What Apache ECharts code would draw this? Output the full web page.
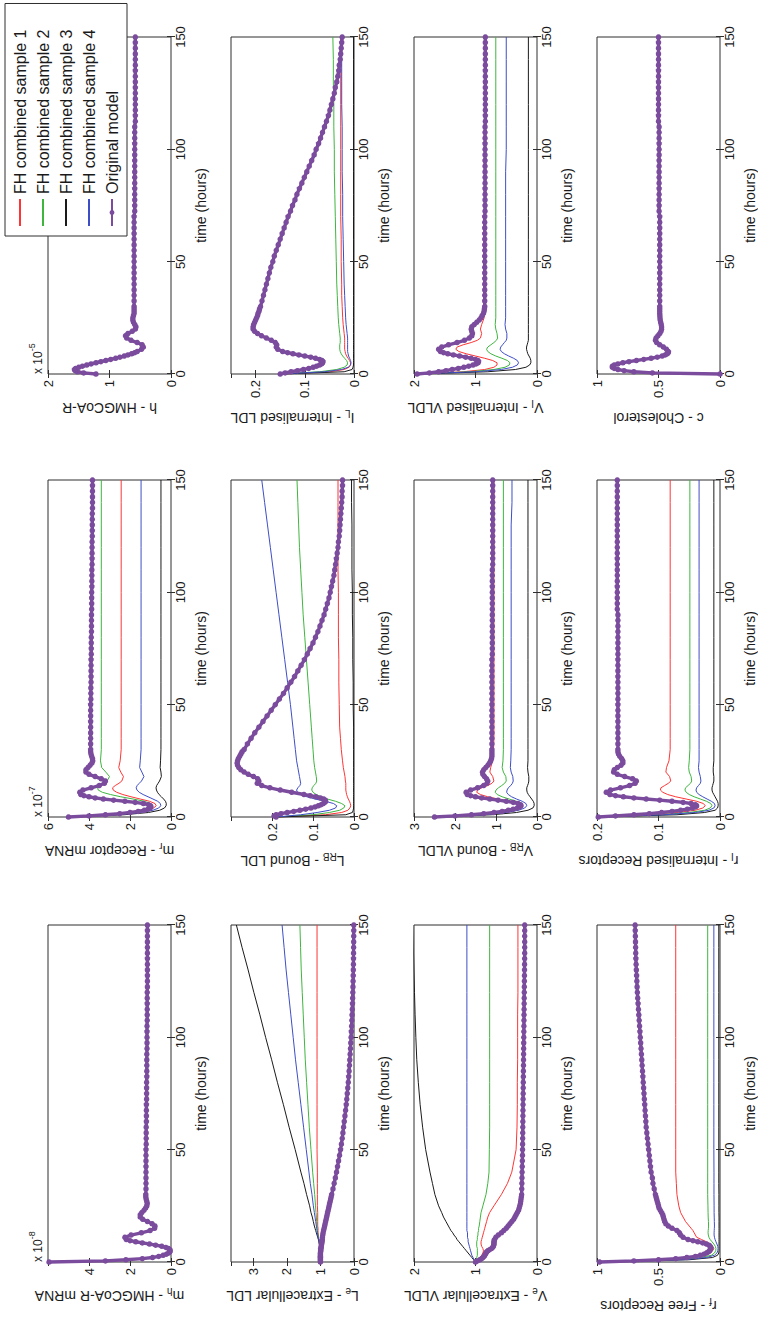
<!DOCTYPE html>
<html>
<head>
<meta charset="utf-8">
<script src="https://cdn.jsdelivr.net/npm/echarts@6/dist/echarts.min.js"></script>
<style>
html,body{margin:0;padding:0;background:#fff;width:758px;height:1317px;overflow:hidden;}
#wrap{position:absolute;left:0;top:0;width:1317px;height:758px;transform-origin:0 0;transform:translate(0,1317px) rotate(-90deg);}
#chart{width:1317px;height:758px;background:#fff;}
</style>
</head>
<body>
<div id="wrap"><div id="chart"></div></div>
<script>
// ---------- time grids ----------
const TIME_ORIG = [0,0.5,1,1.5,2,2.5,3,3.5,4,4.5,5,5.5,6,6.5,7,7.5,8,8.5,9,9.5,10,
  11,12,13,14,15,16,17,18,19,20,21,22,23,24,25,26,27,28,29,30,
  32.5,35,37.5,40,42.5,45,47.5,50,52.5,55,57.5,60,62.5,65,67.5,70,72.5,75,77.5,80,
  82.5,85,87.5,90,92.5,95,97.5,100,102.5,105,107.5,110,112.5,115,117.5,120,
  122.5,125,127.5,130,132.5,135,137.5,140,142.5,145,147.5,150];
const TIME_FH = [0,1,2,3,4,5,6,7,8,9,10,11,12,13,14,15,16,18,20,22,25,30,35,40,50,60,70,80,90,100,110,120,130,140,150];
const TIME_TICKS = [0,50,100,150];
const SERIES_NAMES = ['FH combined sample 1','FH combined sample 2','FH combined sample 3','FH combined sample 4','Original model'];

// ---------- m_h (x1e-8) ----------
const mh_orig = [5.95,3.2,2.2,1.4,0.9,0.6,0.38,0.22,0.12,0.06,0.04,0.06,0.12,0.25,0.45,0.75,1.05,1.4,1.72,2.0,2.18,
  2.25,1.95,1.45,1.02,0.8,0.78,0.92,1.15,1.38,1.5,1.5,1.42,1.32,1.24,1.18,1.16,1.18,1.21,1.23,1.23,
  1.22,1.22,1.22,1.22,1.22,1.22,1.22,1.22,1.21,1.21,1.21,1.21,1.2,1.2,1.2,1.2,
  1.19,1.19,1.19,1.19,1.18,1.18,1.18,1.18,1.18,1.17,1.17,1.17,1.17,1.17,1.16,1.16,
  1.16,1.16,1.16,1.16,1.15,1.15,1.15,1.15,1.15,1.15,1.15,1.15,1.15,1.15,1.15,1.15];

// ---------- m_r (x1e-7) ----------
const mr_orig = [5.0,4.0,3.2,2.5,2.0,1.6,1.3,1.12,1.02,0.98,1.0,1.1,1.35,1.75,2.25,2.8,3.3,3.7,4.0,4.25,4.4,
  4.45,4.3,3.9,3.5,3.25,3.2,3.4,3.7,4.0,4.15,4.15,4.05,3.95,3.86,3.82,3.83,3.87,3.9,3.92,3.92,
  3.92,3.92,3.92,3.92,3.92,3.92,3.92,3.92,3.91,3.91,3.91,3.9,3.9,3.9,3.9,3.9,
  3.89,3.89,3.89,3.89,3.88,3.88,3.88,3.88,3.87,3.87,3.87,3.87,3.86,3.86,3.86,3.86,
  3.85,3.85,3.85,3.85,3.85,3.84,3.84,3.84,3.84,3.84,3.83,3.83,3.83,3.83,3.83,3.83];
const mr_s1 = [5.0,3.0,1.8,1.15,0.85,0.72,0.78,1.05,1.5,1.95,2.35,2.65,2.82,2.85,2.72,2.54,2.4,2.32,2.45,2.55,2.48,2.43,
  2.43,2.43,2.43,2.43,2.43,2.43,2.43,2.43,2.43,2.43,2.43,2.43,2.43];
const mr_s2 = [5.0,3.2,2.1,1.45,1.1,0.95,1.0,1.3,1.85,2.45,2.95,3.35,3.55,3.58,3.48,3.3,3.12,3.0,3.18,3.38,3.44,3.4,
  3.4,3.4,3.4,3.4,3.4,3.4,3.4,3.4,3.4,3.4,3.4,3.4,3.4];
const mr_s3 = [5.0,2.3,1.1,0.55,0.32,0.24,0.23,0.27,0.36,0.47,0.58,0.66,0.71,0.73,0.7,0.63,0.56,0.47,0.49,0.53,0.51,0.49,
  0.49,0.49,0.49,0.49,0.49,0.49,0.49,0.49,0.49,0.49,0.49,0.49,0.49];
const mr_s4 = [5.0,2.7,1.5,0.88,0.6,0.5,0.52,0.65,0.88,1.12,1.36,1.55,1.66,1.7,1.65,1.55,1.44,1.32,1.42,1.53,1.5,1.46,
  1.46,1.46,1.46,1.46,1.46,1.46,1.46,1.46,1.46,1.46,1.46,1.46,1.46];

// ---------- h (x1e-5) ----------
const h_orig = [1.22,1.42,1.52,1.56,1.57,1.55,1.5,1.44,1.37,1.3,1.22,1.14,1.06,0.98,0.9,0.83,0.76,0.7,0.64,0.59,0.55,
  0.48,0.45,0.47,0.55,0.65,0.72,0.74,0.7,0.63,0.58,0.57,0.59,0.61,0.62,0.62,0.61,0.6,0.6,0.6,0.6,
  0.6,0.6,0.6,0.6,0.6,0.6,0.6,0.6,0.6,0.6,0.6,0.6,0.6,0.6,0.6,0.6,
  0.59,0.59,0.59,0.59,0.59,0.59,0.59,0.59,0.59,0.59,0.59,0.59,0.59,0.59,0.59,0.59,
  0.58,0.58,0.58,0.58,0.58,0.58,0.58,0.58,0.58,0.58,0.58,0.58,0.58,0.58,0.58,0.58];

// ---------- L_e ----------
const Le_orig = [1.0,1.0,1.0,1.0,1.0,1.0,1.0,1.0,1.0,0.995,0.99,0.99,0.985,0.98,0.975,0.97,0.965,0.96,0.955,0.95,0.945,
  0.94,0.93,0.92,0.905,0.89,0.875,0.86,0.845,0.83,0.815,0.8,0.785,0.77,0.755,0.74,0.725,0.71,0.695,0.68,0.665,
  0.625,0.59,0.555,0.52,0.49,0.46,0.43,0.4,0.375,0.35,0.33,0.31,0.29,0.27,0.25,0.23,
  0.215,0.2,0.185,0.17,0.158,0.146,0.135,0.125,0.115,0.105,0.096,0.087,0.079,0.071,0.064,0.057,
  0.051,0.045,0.04,0.035,0.031,0.027,0.023,0.02,0.017,0.015,0.013,0.011,0.009,0.008,0.007,0.006];
const Le_s1 = [1.0,1.0,1.0,1.0,1.0,1.0,1.01,1.02,1.03,1.04,1.05,1.06,1.06,1.07,1.07,1.07,1.08,1.08,1.08,1.08,1.09,1.09,
  1.09,1.09,1.1,1.1,1.1,1.1,1.1,1.1,1.1,1.1,1.1,1.1,1.1];
const Le_s2 = [1.0,1.0,1.0,1.0,1.0,1.0,1.01,1.02,1.03,1.04,1.05,1.06,1.07,1.08,1.09,1.095,1.1,1.11,1.12,1.13,1.145,1.17,
  1.2,1.23,1.28,1.33,1.37,1.41,1.45,1.48,1.51,1.54,1.57,1.59,1.61];
const Le_s3 = [1.0,1.0,1.0,1.0,1.0,1.0,1.01,1.02,1.03,1.04,1.06,1.08,1.1,1.12,1.14,1.16,1.18,1.21,1.24,1.28,1.32,1.41,
  1.49,1.58,1.75,1.93,2.1,2.28,2.45,2.63,2.8,2.98,3.15,3.33,3.5];
const Le_s4 = [1.0,1.0,1.0,1.0,1.0,1.0,1.01,1.02,1.03,1.04,1.05,1.07,1.08,1.09,1.1,1.11,1.12,1.14,1.16,1.18,1.21,1.25,
  1.3,1.34,1.42,1.5,1.58,1.66,1.74,1.81,1.88,1.95,2.02,2.08,2.14];

// ---------- L_RB ----------
const LRB_orig = [0.19,0.195,0.19,0.178,0.163,0.147,0.132,0.118,0.105,0.095,0.087,0.08,0.075,0.071,0.069,0.07,0.074,0.082,0.093,0.107,0.122,
  0.152,0.18,0.205,0.225,0.236,0.232,0.235,0.245,0.258,0.268,0.276,0.281,0.284,0.285,0.284,0.282,0.279,0.276,0.273,0.268,
  0.26,0.251,0.242,0.232,0.222,0.212,0.202,0.192,0.182,0.172,0.163,0.154,0.145,0.137,0.129,0.121,
  0.114,0.107,0.1,0.094,0.088,0.083,0.078,0.073,0.069,0.065,0.061,0.058,0.055,0.052,0.049,0.047,
  0.045,0.043,0.041,0.039,0.038,0.036,0.035,0.034,0.033,0.032,0.031,0.03,0.029,0.029,0.028,0.028];
const LRB_s1 = [0.19,0.07,0.03,0.015,0.01,0.008,0.009,0.011,0.014,0.016,0.018,0.019,0.02,0.02,0.02,0.02,0.021,0.022,0.024,0.026,0.028,0.031,
  0.033,0.035,0.036,0.037,0.037,0.038,0.038,0.038,0.039,0.039,0.039,0.039,0.039];
const LRB_s2 = [0.19,0.1,0.06,0.035,0.025,0.022,0.03,0.045,0.065,0.08,0.092,0.1,0.103,0.102,0.098,0.093,0.091,0.092,0.094,0.096,0.098,0.1,
  0.102,0.104,0.108,0.112,0.116,0.12,0.124,0.127,0.13,0.133,0.135,0.137,0.139];
const LRB_s3 = [0.19,0.02,0.004,0.002,0.001,0.001,0.001,0.001,0.001,0.001,0.001,0.001,0.001,0.001,0.001,0.001,0.001,0.001,0.001,0.001,0.001,0.001,
  0.001,0.001,0.002,0.002,0.003,0.003,0.004,0.004,0.005,0.005,0.005,0.006,0.006];
const LRB_s4 = [0.19,0.13,0.09,0.06,0.045,0.042,0.05,0.07,0.095,0.115,0.13,0.138,0.14,0.137,0.132,0.13,0.131,0.133,0.135,0.137,0.14,0.143,
  0.146,0.149,0.155,0.162,0.169,0.176,0.183,0.19,0.197,0.204,0.211,0.218,0.225];

// ---------- I_L ----------
const IL_orig = [0.15,0.14,0.128,0.115,0.103,0.092,0.083,0.076,0.07,0.066,0.064,0.063,0.065,0.07,0.078,0.088,0.1,0.112,0.124,0.135,0.145,
  0.155,0.158,0.157,0.16,0.168,0.178,0.188,0.196,0.202,0.205,0.205,0.204,0.202,0.2,0.198,0.196,0.195,0.193,0.192,0.19,
  0.187,0.184,0.181,0.178,0.175,0.172,0.169,0.165,0.162,0.158,0.154,0.15,0.146,0.142,0.138,0.134,
  0.129,0.125,0.12,0.116,0.111,0.106,0.101,0.096,0.091,0.086,0.081,0.077,0.072,0.068,0.064,0.06,
  0.056,0.052,0.049,0.046,0.043,0.04,0.038,0.035,0.033,0.031,0.03,0.028,0.027,0.026,0.025,0.024];
const IL_s1 = [0.15,0.05,0.02,0.01,0.007,0.007,0.009,0.012,0.015,0.017,0.018,0.019,0.019,0.019,0.019,0.019,0.019,0.02,0.021,0.022,0.023,0.024,
  0.025,0.025,0.026,0.026,0.027,0.027,0.027,0.027,0.027,0.027,0.027,0.027,0.027];
const IL_s2 = [0.15,0.07,0.035,0.02,0.014,0.013,0.015,0.019,0.023,0.026,0.028,0.029,0.029,0.029,0.028,0.028,0.028,0.029,0.03,0.031,0.032,0.033,
  0.034,0.035,0.036,0.037,0.038,0.039,0.04,0.04,0.041,0.041,0.042,0.042,0.043];
const IL_s3 = [0.15,0.02,0.004,0.002,0.001,0.001,0.001,0.001,0.001,0.001,0.001,0.001,0.001,0.001,0.001,0.001,0.001,0.001,0.001,0.001,0.001,0.001,
  0.001,0.001,0.001,0.001,0.001,0.001,0.001,0.001,0.001,0.001,0.001,0.001,0.001];
const IL_s4 = [0.15,0.06,0.025,0.012,0.007,0.006,0.007,0.009,0.011,0.012,0.013,0.013,0.013,0.013,0.013,0.013,0.013,0.014,0.015,0.016,0.017,0.018,
  0.019,0.02,0.021,0.022,0.023,0.023,0.024,0.024,0.024,0.025,0.025,0.025,0.025];

// ---------- V_e ----------
const Ve_orig = [1.0,0.97,0.93,0.9,0.88,0.86,0.85,0.84,0.83,0.82,0.8,0.77,0.74,0.72,0.71,0.705,0.7,0.7,0.7,0.695,0.69,
  0.67,0.63,0.58,0.54,0.5,0.47,0.44,0.41,0.38,0.36,0.34,0.32,0.3,0.29,0.28,0.27,0.265,0.26,0.255,0.25,
  0.248,0.246,0.244,0.242,0.24,0.238,0.236,0.235,0.234,0.233,0.232,0.231,0.23,0.229,0.228,0.227,
  0.226,0.225,0.224,0.223,0.222,0.221,0.22,0.219,0.218,0.217,0.216,0.215,0.214,0.213,0.212,0.211,
  0.21,0.209,0.208,0.207,0.206,0.205,0.204,0.203,0.202,0.201,0.2,0.2,0.2,0.2,0.2,0.2];
const Ve_s1 = [1.0,0.97,0.93,0.9,0.88,0.87,0.88,0.9,0.91,0.91,0.9,0.89,0.88,0.87,0.86,0.85,0.84,0.82,0.8,0.77,0.7,0.58,
  0.48,0.41,0.34,0.325,0.32,0.32,0.315,0.315,0.315,0.31,0.31,0.31,0.31];
const Ve_s2 = [1.0,0.99,0.98,0.97,0.97,0.97,0.97,0.98,0.98,0.98,0.97,0.97,0.96,0.96,0.95,0.95,0.94,0.93,0.92,0.91,0.88,0.83,
  0.8,0.78,0.775,0.77,0.77,0.77,0.77,0.77,0.77,0.77,0.77,0.77,0.77];
const Ve_s3 = [1.0,1.03,1.06,1.09,1.12,1.15,1.18,1.21,1.24,1.27,1.3,1.32,1.35,1.37,1.4,1.42,1.44,1.48,1.52,1.55,1.6,1.66,
  1.7,1.74,1.81,1.86,1.9,1.93,1.955,1.97,1.982,1.992,2.002,2.01,2.02];
const Ve_s4 = [1.0,1.02,1.04,1.06,1.07,1.08,1.09,1.1,1.11,1.12,1.12,1.13,1.13,1.13,1.14,1.14,1.14,1.14,1.14,1.14,1.14,1.14,
  1.14,1.14,1.14,1.14,1.14,1.14,1.14,1.14,1.14,1.14,1.14,1.14,1.14];

// ---------- V_RB ----------
const VRB_orig = [2.5,2.0,1.6,1.3,1.05,0.85,0.7,0.58,0.48,0.42,0.39,0.4,0.46,0.58,0.75,0.95,1.15,1.35,1.5,1.62,1.7,
  1.73,1.62,1.45,1.3,1.22,1.2,1.23,1.28,1.32,1.33,1.3,1.25,1.2,1.16,1.13,1.11,1.1,1.1,1.1,1.1,
  1.1,1.1,1.1,1.1,1.1,1.1,1.1,1.1,1.1,1.1,1.1,1.1,1.1,1.1,1.1,1.1,
  1.09,1.09,1.09,1.09,1.09,1.09,1.09,1.09,1.09,1.09,1.09,1.09,1.09,1.09,1.09,1.09,
  1.08,1.08,1.08,1.08,1.08,1.08,1.08,1.08,1.08,1.08,1.08,1.08,1.08,1.08,1.08,1.08];
const VRB_s1 = [2.5,1.5,0.95,0.65,0.5,0.45,0.5,0.7,0.95,1.2,1.38,1.47,1.45,1.35,1.2,1.1,1.05,1.08,1.15,1.13,1.08,1.06,
  1.05,1.05,1.05,1.05,1.05,1.05,1.05,1.05,1.05,1.05,1.05,1.05,1.05];
const VRB_s2 = [2.5,1.4,0.85,0.55,0.4,0.35,0.38,0.5,0.68,0.85,0.97,1.02,1.0,0.94,0.86,0.79,0.75,0.76,0.82,0.85,0.83,0.82,
  0.82,0.82,0.82,0.82,0.82,0.82,0.82,0.82,0.82,0.82,0.82,0.82,0.82];
const VRB_s3 = [2.5,1.1,0.5,0.22,0.1,0.07,0.07,0.09,0.13,0.17,0.21,0.24,0.25,0.25,0.23,0.21,0.2,0.2,0.22,0.23,0.22,0.22,
  0.22,0.22,0.22,0.22,0.22,0.22,0.22,0.22,0.22,0.22,0.22,0.22,0.22];
const VRB_s4 = [2.5,1.3,0.75,0.45,0.3,0.25,0.27,0.36,0.5,0.62,0.7,0.74,0.73,0.7,0.64,0.6,0.58,0.59,0.63,0.65,0.64,0.63,
  0.63,0.63,0.63,0.63,0.63,0.63,0.63,0.63,0.63,0.63,0.63,0.61,0.61];

// ---------- V_I ----------
const VI_orig = [1.95,1.75,1.6,1.48,1.38,1.28,1.19,1.11,1.04,0.99,0.96,0.95,0.96,1.0,1.07,1.16,1.26,1.36,1.45,1.52,1.57,
  1.6,1.55,1.44,1.3,1.18,1.1,1.06,1.05,1.06,1.07,1.06,1.02,0.98,0.94,0.91,0.89,0.87,0.86,0.855,0.85,
  0.85,0.85,0.85,0.85,0.85,0.85,0.85,0.85,0.85,0.85,0.85,0.85,0.85,0.85,0.85,0.85,
  0.845,0.845,0.845,0.845,0.845,0.845,0.845,0.845,0.845,0.845,0.845,0.845,0.845,0.845,0.845,0.845,
  0.84,0.84,0.84,0.84,0.84,0.84,0.84,0.84,0.84,0.84,0.84,0.84,0.84,0.84,0.84,0.84];
const VI_s1 = [1.95,1.2,0.85,0.7,0.65,0.65,0.72,0.85,1.0,1.15,1.27,1.32,1.3,1.2,1.07,0.97,0.92,0.9,0.92,0.9,0.86,0.84,
  0.84,0.84,0.84,0.84,0.84,0.84,0.84,0.84,0.84,0.84,0.84,0.84,0.84];
const VI_s2 = [1.95,1.1,0.7,0.52,0.45,0.44,0.48,0.57,0.67,0.75,0.8,0.82,0.8,0.75,0.7,0.66,0.64,0.65,0.67,0.68,0.67,0.67,
  0.67,0.67,0.67,0.67,0.67,0.67,0.67,0.67,0.67,0.67,0.67,0.67,0.67];
const VI_s3 = [1.95,0.8,0.35,0.18,0.12,0.1,0.1,0.11,0.13,0.15,0.16,0.17,0.17,0.16,0.15,0.14,0.14,0.14,0.14,0.14,0.14,0.14,
  0.14,0.14,0.14,0.14,0.14,0.14,0.14,0.14,0.14,0.14,0.14,0.14,0.14];
const VI_s4 = [1.95,1.0,0.58,0.4,0.32,0.3,0.32,0.38,0.46,0.53,0.58,0.6,0.59,0.56,0.53,0.5,0.49,0.49,0.51,0.52,0.51,0.51,
  0.51,0.51,0.51,0.51,0.51,0.51,0.51,0.5,0.5,0.5,0.5,0.5,0.5];

// ---------- r_f ----------
const rf_orig = [0.98,0.7,0.5,0.36,0.27,0.2,0.16,0.13,0.11,0.095,0.085,0.078,0.075,0.075,0.08,0.09,0.11,0.14,0.18,0.22,0.26,
  0.3,0.32,0.33,0.35,0.39,0.42,0.44,0.45,0.455,0.46,0.465,0.475,0.485,0.495,0.5,0.505,0.51,0.515,0.52,0.525,
  0.535,0.545,0.55,0.56,0.565,0.57,0.575,0.58,0.585,0.59,0.595,0.6,0.603,0.606,0.609,0.612,
  0.615,0.618,0.621,0.624,0.627,0.63,0.633,0.636,0.639,0.642,0.645,0.648,0.651,0.654,0.657,0.66,
  0.663,0.666,0.669,0.672,0.674,0.676,0.678,0.68,0.682,0.684,0.685,0.686,0.687,0.688,0.689,0.69];
const rf_s1 = [0.98,0.45,0.22,0.12,0.08,0.06,0.05,0.06,0.08,0.11,0.15,0.19,0.2,0.21,0.22,0.235,0.25,0.28,0.3,0.32,0.335,0.35,
  0.355,0.36,0.36,0.36,0.36,0.36,0.36,0.36,0.36,0.36,0.36,0.36,0.36];
const rf_s2 = [0.98,0.35,0.15,0.07,0.045,0.035,0.033,0.038,0.05,0.065,0.08,0.09,0.095,0.097,0.096,0.094,0.093,0.094,0.096,0.097,0.098,0.1,
  0.1,0.1,0.1,0.1,0.1,0.1,0.1,0.1,0.1,0.1,0.1,0.1,0.1];
const rf_s3 = [0.98,0.25,0.06,0.02,0.01,0.008,0.008,0.008,0.008,0.008,0.008,0.008,0.008,0.008,0.008,0.008,0.008,0.008,0.008,0.009,0.009,0.009,
  0.01,0.01,0.01,0.01,0.01,0.01,0.01,0.01,0.01,0.01,0.01,0.01,0.01];
const rf_s4 = [0.98,0.3,0.11,0.045,0.025,0.018,0.016,0.018,0.025,0.033,0.04,0.045,0.048,0.048,0.047,0.046,0.045,0.046,0.047,0.048,0.048,0.049,
  0.049,0.049,0.05,0.05,0.05,0.05,0.05,0.05,0.05,0.05,0.05,0.05,0.05];

// ---------- r_I ----------
const rI_orig = [0.198,0.17,0.14,0.115,0.095,0.078,0.064,0.053,0.045,0.04,0.038,0.04,0.047,0.06,0.078,0.098,0.12,0.14,0.157,0.17,0.179,
  0.185,0.178,0.162,0.147,0.138,0.136,0.142,0.155,0.167,0.173,0.172,0.167,0.161,0.158,0.158,0.16,0.163,0.165,0.166,0.166,
  0.166,0.166,0.166,0.166,0.166,0.166,0.166,0.166,0.166,0.166,0.166,0.166,0.166,0.166,0.166,0.166,
  0.166,0.166,0.166,0.166,0.166,0.166,0.166,0.166,0.167,0.167,0.167,0.167,0.167,0.167,0.167,0.167,
  0.167,0.167,0.167,0.167,0.167,0.167,0.167,0.167,0.167,0.167,0.167,0.167,0.167,0.167,0.167,0.167];
const rI_s1 = [0.198,0.12,0.07,0.04,0.028,0.024,0.027,0.038,0.055,0.072,0.085,0.093,0.097,0.096,0.09,0.084,0.08,0.082,0.088,0.087,0.083,0.081,
  0.081,0.081,0.081,0.081,0.081,0.081,0.081,0.081,0.081,0.081,0.081,0.081,0.081];
const rI_s2 = [0.198,0.1,0.05,0.025,0.016,0.013,0.015,0.022,0.032,0.042,0.05,0.055,0.057,0.056,0.052,0.048,0.046,0.047,0.05,0.051,0.05,0.049,
  0.049,0.049,0.049,0.049,0.049,0.049,0.049,0.049,0.049,0.049,0.049,0.049,0.049];
const rI_s3 = [0.198,0.07,0.025,0.008,0.004,0.003,0.003,0.004,0.006,0.008,0.01,0.012,0.013,0.013,0.012,0.011,0.01,0.01,0.011,0.011,0.01,0.01,
  0.01,0.01,0.01,0.01,0.01,0.01,0.01,0.01,0.01,0.01,0.01,0.01,0.01];
const rI_s4 = [0.198,0.09,0.04,0.018,0.01,0.008,0.009,0.014,0.021,0.028,0.034,0.038,0.039,0.038,0.035,0.032,0.031,0.032,0.034,0.035,0.034,0.034,
  0.034,0.034,0.034,0.034,0.034,0.034,0.034,0.034,0.034,0.034,0.034,0.034,0.034];

// ---------- c ----------
const c_orig = [0.0,0.55,0.7,0.78,0.83,0.86,0.875,0.875,0.86,0.83,0.79,0.74,0.68,0.62,0.56,0.51,0.47,0.445,0.43,0.42,0.42,
  0.435,0.46,0.49,0.515,0.525,0.52,0.505,0.49,0.48,0.475,0.475,0.478,0.482,0.486,0.488,0.489,0.49,0.49,0.49,0.49,
  0.49,0.49,0.49,0.49,0.49,0.49,0.49,0.49,0.49,0.49,0.49,0.49,0.49,0.49,0.49,0.49,
  0.495,0.495,0.495,0.495,0.495,0.495,0.495,0.495,0.495,0.495,0.495,0.495,0.495,0.495,0.495,0.495,
  0.5,0.5,0.5,0.5,0.5,0.5,0.5,0.5,0.5,0.5,0.5,0.5,0.5,0.5,0.5,0.5];

// ---------- panel definitions (subplot order: row by row) ----------
const PANELS = [
  {v:'m', sub:'h', rest:' - HMGCoA-R mRNA', exp:'-8', ymax:6, step:2, hideMax:true, orig:mh_orig, fh:null},
  {v:'m', sub:'r', rest:' - Receptor mRNA', exp:'-7', ymax:6, step:2, hideMax:false, orig:mr_orig, fh:[mr_s1,mr_s2,mr_s3,mr_s4]},
  {v:'h', sub:'', rest:' - HMGCoA-R', exp:'-5', ymax:2, step:1, hideMax:false, orig:h_orig, fh:null},
  {v:'L', sub:'e', rest:' - Extracellular LDL', exp:null, ymax:3.66, step:1, hideMax:true, orig:Le_orig, fh:[Le_s1,Le_s2,Le_s3,Le_s4]},
  {v:'L', sub:'RB', rest:' - Bound LDL', exp:null, ymax:0.3, step:0.1, hideMax:true, orig:LRB_orig, fh:[LRB_s1,LRB_s2,LRB_s3,LRB_s4]},
  {v:'I', sub:'L', rest:' - Internalised LDL', exp:null, ymax:0.25, step:0.1, hideMax:true, orig:IL_orig, fh:[IL_s1,IL_s2,IL_s3,IL_s4]},
  {v:'V', sub:'e', rest:' - Extracellular VLDL', exp:null, ymax:2, step:1, hideMax:false, orig:Ve_orig, fh:[Ve_s1,Ve_s2,Ve_s3,Ve_s4]},
  {v:'V', sub:'RB', rest:' - Bound VLDL', exp:null, ymax:3, step:1, hideMax:false, orig:VRB_orig, fh:[VRB_s1,VRB_s2,VRB_s3,VRB_s4]},
  {v:'V', sub:'I', rest:' - Internalised VLDL', exp:null, ymax:2, step:1, hideMax:false, orig:VI_orig, fh:[VI_s1,VI_s2,VI_s3,VI_s4]},
  {v:'r', sub:'f', rest:' - Free Receptors', exp:null, ymax:1, step:0.5, hideMax:false, orig:rf_orig, fh:[rf_s1,rf_s2,rf_s3,rf_s4]},
  {v:'r', sub:'I', rest:' - Internalised Receptors', exp:null, ymax:0.2, step:0.1, hideMax:false, orig:rI_orig, fh:[rI_s1,rI_s2,rI_s3,rI_s4]},
  {v:'c', sub:'', rest:' - Cholesterol', exp:null, ymax:1, step:0.5, hideMax:false, orig:c_orig, fh:null}
];

// ---------- layout / style ----------
const COL_X = [55, 500, 943];
const ROW_Y = [48, 231, 414, 597];
const GRID_W = 337, GRID_H = 123;
const FONT = 'Liberation Sans, Arial, Helvetica, sans-serif';
const TXT = '#1a1a1a';
const FRAME = '#2e2e2e';
const COLORS = ['#ff3535', '#3fb53f', '#1a1a1a', '#3e4ec6', '#7b4b9d'];

const grids = [], xAxes = [], yAxes = [], series = [], graphics = [];
const RICH = {
  n: {fontSize: 14, fontFamily: FONT, color: TXT, lineHeight: 15, verticalAlign: 'top'},
  s: {fontSize: 10, fontFamily: FONT, color: TXT, lineHeight: 10, verticalAlign: 'top', padding: [7, 0, 0, 0]}
};

PANELS.forEach((p, i) => {
  const row = Math.floor(i / 3), col = i % 3;
  grids.push({left: COL_X[col], top: ROW_Y[row], width: GRID_W, height: GRID_H,
    show: true, borderColor: FRAME, borderWidth: 1, backgroundColor: 'transparent', containLabel: false});
  const tickStyle = {show: true, inside: true, length: 4, lineStyle: {color: FRAME, width: 1}};
  const tMin = TIME_TICKS[0], tMax = TIME_TICKS[TIME_TICKS.length - 1], tStep = TIME_TICKS[1] - TIME_TICKS[0];
  xAxes.push({gridIndex: i, type: 'value', position: 'bottom', min: tMin, max: tMax, interval: tStep,
    axisLine: {show: false}, splitLine: {show: false}, axisTick: tickStyle,
    axisLabel: {margin: 3, fontSize: 13, fontFamily: FONT, color: TXT, showMinLabel: true, showMaxLabel: true},
    name: 'time (hours)', nameLocation: 'middle', nameGap: 23,
    nameTextStyle: {fontSize: 14, fontFamily: FONT, color: TXT}});
  xAxes.push({gridIndex: i, type: 'value', position: 'top', min: tMin, max: tMax, interval: tStep,
    axisLine: {show: false}, splitLine: {show: false}, axisTick: tickStyle, axisLabel: {show: false}});
  const wide = p.step < 1;
  const nm = '{n|' + p.v + '}' + (p.sub ? '{s|' + p.sub + '}' : '') + '{n|' + p.rest + '}';
  yAxes.push({gridIndex: i, type: 'value', position: 'left', min: 0, max: p.ymax, interval: p.step,
    axisLine: {show: false}, splitLine: {show: false}, axisTick: tickStyle,
    axisLabel: {margin: 6, fontSize: 13, fontFamily: FONT, color: TXT, showMinLabel: true, showMaxLabel: !p.hideMax},
    name: nm, nameLocation: 'middle', nameRotate: 90, nameGap: wide ? 36 : 26,
    nameTextStyle: {rich: RICH}});
  yAxes.push({gridIndex: i, type: 'value', position: 'right', min: 0, max: p.ymax, interval: p.step,
    axisLine: {show: false}, splitLine: {show: false}, axisTick: tickStyle, axisLabel: {show: false}});
  const xi = 2 * i, yi = 2 * i;
  if (p.fh) {
    p.fh.forEach((arr, k) => {
      series.push({type: 'line', name: SERIES_NAMES[k], xAxisIndex: xi, yAxisIndex: yi,
        data: TIME_FH.map((t, j) => [t, arr[j]]), symbol: 'none', clip: true, silent: true,
        lineStyle: {width: 1, color: COLORS[k]}, itemStyle: {color: COLORS[k]}, z: 2});
    });
  }
  series.push({type: 'line', name: SERIES_NAMES[4], xAxisIndex: xi, yAxisIndex: yi,
    data: TIME_ORIG.map((t, j) => [t, p.orig[j]]), symbol: 'circle', symbolSize: 5.5, showAllSymbol: true,
    clip: true, silent: true, lineStyle: {width: 3.4, color: COLORS[4]}, itemStyle: {color: COLORS[4]}, z: 3});
  if (p.exp) {
    graphics.push({type: 'text', left: COL_X[col], top: ROW_Y[row] - 21, z: 20,
      style: {text: '{a|x 10}{b|' + p.exp + '}',
        rich: {a: {fontSize: 12, fontFamily: FONT, fill: TXT, lineHeight: 17, verticalAlign: 'bottom'},
               b: {fontSize: 9, fontFamily: FONT, fill: TXT, lineHeight: 11, verticalAlign: 'top'}}}});
  }
});

const chart = echarts.init(document.getElementById('chart'), null, {renderer: 'svg', width: 1317, height: 758});
chart.setOption({
  animation: false,
  backgroundColor: '#fff',
  grid: grids, xAxis: xAxes, yAxis: yAxes, series: series, graphic: graphics,
  legend: {
    orient: 'vertical', left: 1081, top: 5, padding: [7, 26, 7, 9], itemGap: 7,
    itemWidth: 27, itemHeight: 6, backgroundColor: '#fff', borderColor: FRAME, borderWidth: 1,
    selectedMode: false, z: 30,
    textStyle: {fontSize: 16, fontFamily: FONT, color: TXT, lineHeight: 16},
    data: SERIES_NAMES.map((n, k) => k < 4 ? {name: n, itemStyle: {opacity: 0}} : {name: n})
  }
});
</script>
</body>
</html>
